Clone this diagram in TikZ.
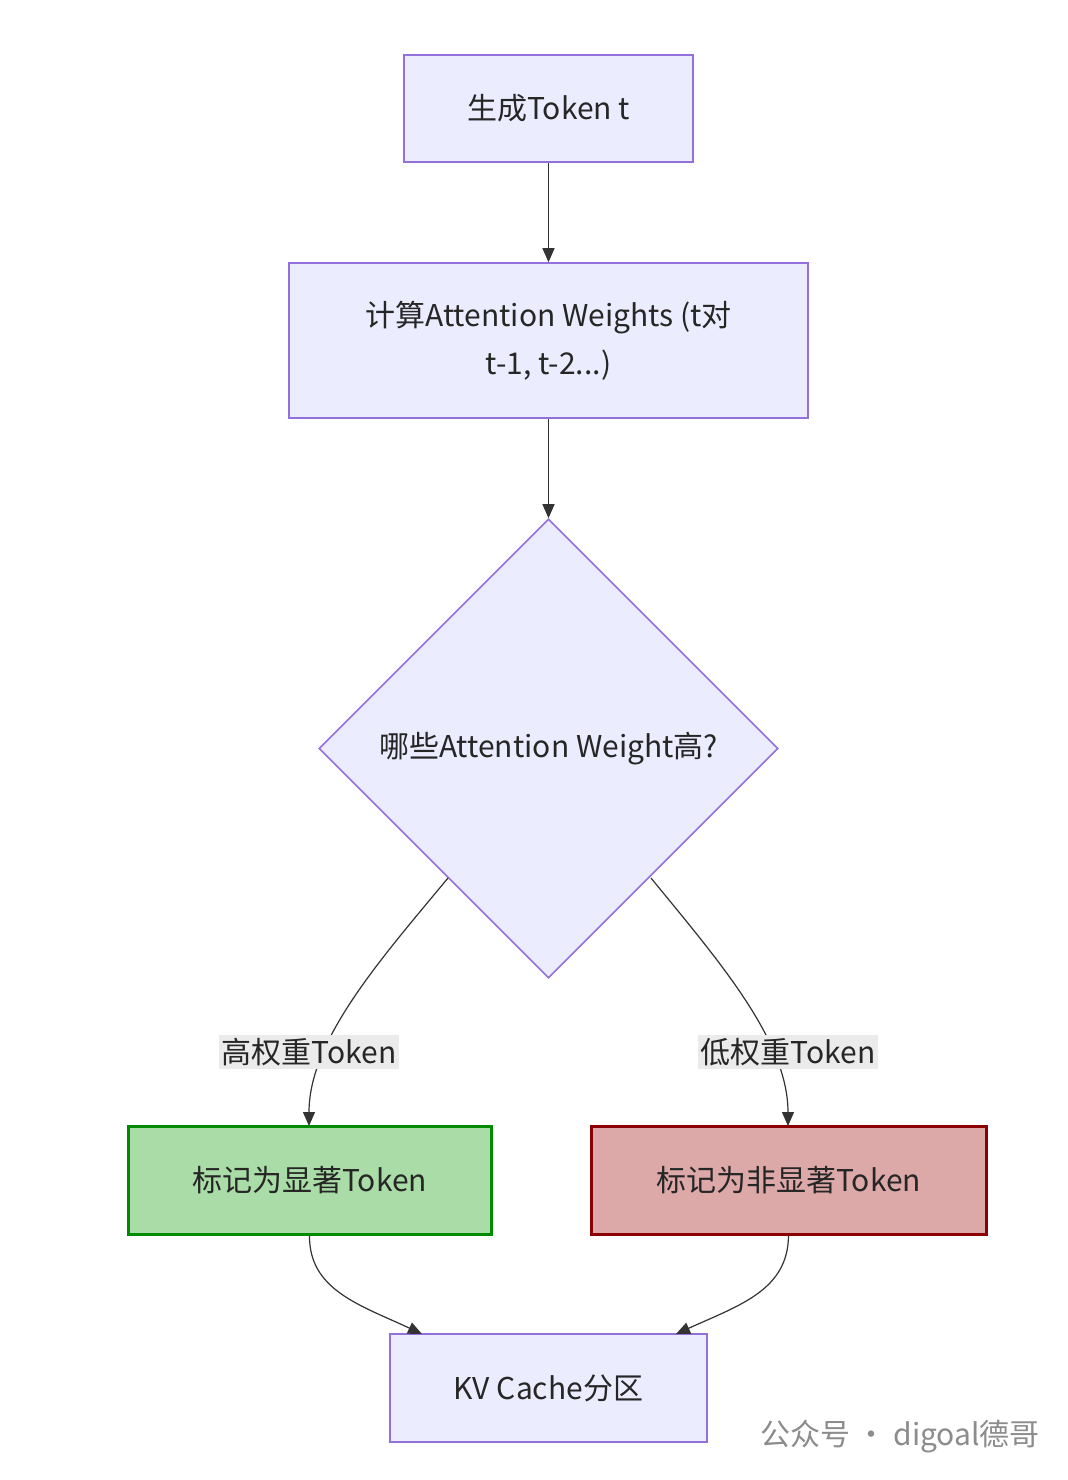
\documentclass[tikz,border=0pt]{standalone}
\usepackage{fontspec}
\setmainfont{Noto Sans CJK SC}
\usetikzlibrary{shapes.geometric,arrows.meta}
\definecolor{nfill}{HTML}{ECECFF}
\definecolor{nline}{HTML}{9370DB}
\definecolor{gfill}{HTML}{A9DCA6}
\definecolor{gline}{HTML}{008A00}
\definecolor{rfill}{HTML}{DCA8A8}
\definecolor{rline}{HTML}{8B0000}
\definecolor{edge}{HTML}{333333}
\tikzset{
  box/.style={draw=nline,fill=nfill,line width=0.8pt,inner sep=0pt,font=\fontsize{15}{24}\selectfont,text=black!85,align=center},
  conn/.style={draw=edge,line width=0.6pt,-{Triangle[length=7pt,width=6pt]}},
  lbl/.style={fill=black!8,inner sep=1.5pt,font=\fontsize{15}{18}\selectfont,text=black!85}
}
\begin{document}
\begin{tikzpicture}[x=0.5pt,y=-0.5pt]
\useasboundingbox (0,0) rectangle (1068,1480);
\fill[white] (0,0) rectangle (1068,1480);
\node[box,minimum width=144.5pt,minimum height=53.5pt] (a) at (548.5,108.5) {生成Token t};
\node[box,minimum width=259.5pt,minimum height=77.5pt] (b) at (548.5,340.5) {计算Attention Weights (t对\\t-1, t-2...)};
\node[box,diamond,minimum width=229.5pt,minimum height=229.5pt] (c) at (548.5,748.5) {哪些Attention Weight高?};
\node[box,draw=gline,fill=gfill,line width=1.5pt,minimum width=181.5pt,minimum height=54pt] (g) at (309.5,1180) {标记为显著Token};
\node[box,draw=rline,fill=rfill,line width=1.5pt,minimum width=197.5pt,minimum height=54pt] (r) at (788.5,1180) {标记为非显著Token};
\node[box,minimum width=158.5pt,minimum height=54pt] (k) at (548.5,1388) {KV Cache分区};
\draw[conn] (a) -- (b);
\draw[conn] (b) -- (c);
\coordinate (cl) at (448,878);
\coordinate (cr) at (651,878);
\draw[conn] (cl) .. controls (380,960) and (309,1040) .. (309,1126);
\draw[conn] (cr) .. controls (718,960) and (788,1040) .. (788,1126);
\node[lbl] (l1) at (309,1052) {高权重Token};
\node[lbl] (l2) at (788,1052) {低权重Token};
\draw[conn] (g.south) .. controls (309,1290) and (360,1305) .. (422,1334);
\draw[conn] (r.south) .. controls (788,1290) and (740,1305) .. (676,1334);
\node[font=\fontsize{15}{18}\selectfont,text=black!45] (w) at (900,1437) {公众号 · digoal德哥};
\end{tikzpicture}
\end{document}
